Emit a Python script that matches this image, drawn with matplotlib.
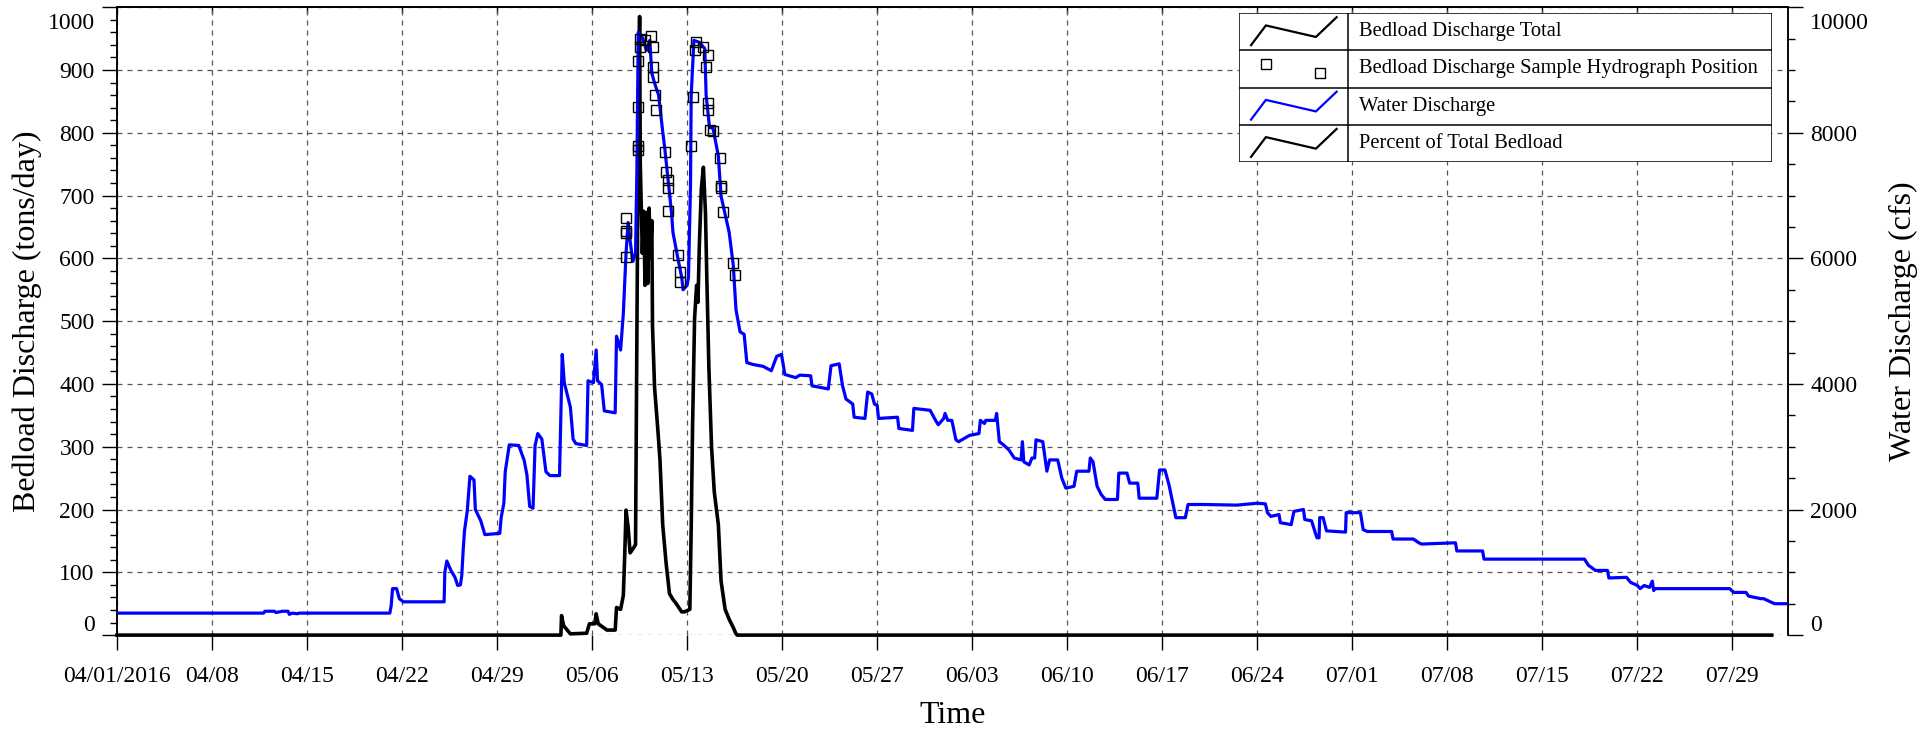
import numpy as np
import matplotlib.pyplot as plt
import matplotlib.dates as mdates
from matplotlib.ticker import MultipleLocator, FixedLocator, FuncFormatter, NullFormatter
from matplotlib.transforms import ScaledTranslation
from matplotlib.patches import Rectangle
from matplotlib.lines import Line2D

plt.rcParams['font.family'] = ['Liberation Serif', 'DejaVu Serif']

START = np.datetime64('2016-04-01T00:00')

# water discharge (cfs), days after 04/01/2016
water_days = [0, 10.8, 10.9, 11.6, 11.7, 12.2, 12.6, 12.7, 12.9, 13.3, 13.4, 20.1, 20.2, 20.3, 20.6, 20.8,
              21.1, 24.1, 24.15, 24.3, 24.6, 24.9, 25.1, 25.3, 25.4, 25.5, 25.6, 25.8, 26.0, 26.3, 26.4,
              26.8, 27.1, 28.2, 28.3, 28.5, 28.6, 28.9, 29.6, 30.0, 30.2, 30.4, 30.65, 30.8, 31.0, 31.3,
              31.6, 31.9, 32.6, 32.7, 32.8, 32.95, 33.4, 33.6, 33.8, 34.6, 34.7, 35.1, 35.3, 35.4, 35.7,
              35.9, 36.7, 36.75, 36.8, 37.1, 37.3, 37.5, 37.65, 37.8, 38.0, 38.2, 38.3, 38.4, 38.75, 39.0,
              39.25, 39.4, 39.6, 39.9, 40.2, 40.35, 40.6, 40.85, 40.96, 41.3, 41.6, 41.7, 42.0, 42.1, 42.25,
              42.3, 42.5, 42.9, 43.3, 43.4, 43.65, 43.9, 44.3, 44.5, 44.9, 45.1, 45.4, 45.6, 45.9, 46.2,
              46.4, 46.85, 47.6, 48.2, 48.6, 48.95, 49.2, 50.0, 50.3, 51.1, 51.2, 52.4, 52.6, 53.2, 53.45,
              53.7, 54.2, 54.3, 55.1, 55.3, 55.6, 55.8, 56.0, 56.1, 57.5, 57.6, 58.6, 58.7, 59.9, 60.3,
              60.5, 60.9, 61.0, 61.2, 61.5, 61.8, 62.0, 62.8, 63.5, 63.6, 63.9, 64.0, 64.7, 64.8, 65.0,
              65.3, 65.7, 66.1, 66.6, 66.7, 66.8, 67.2, 67.4, 67.6, 67.7, 68.2, 68.4, 68.5, 68.7, 69.3,
              69.6, 69.9, 70.5, 70.7, 71.6, 71.7, 71.9, 72.2, 72.5, 72.8, 73.7, 73.8, 74.4, 74.6, 75.2,
              75.3, 76.6, 76.8, 77.2, 77.5, 77.7, 78.0, 78.7, 78.9, 80.0, 82.5, 84.0, 84.6, 84.75, 85.0,
              85.6, 85.7, 86.5, 86.7, 87.4, 87.5, 88.0, 88.3, 88.4, 88.55, 88.6, 88.85, 89.1, 90.5, 90.55,
              91.6, 91.8, 92.1, 93.9, 94.0, 95.5, 95.9, 96.1, 98.6, 98.7, 100.6, 100.7, 108.1, 108.4,
              108.6, 108.9, 109.8, 109.9, 111.2, 111.5, 112.0, 112.2, 112.5, 112.9, 113.1, 113.2, 113.3,
              118.8, 119.1, 120.0, 120.2, 121.1, 121.3, 122.1, 123.2]
water_cfs = [350, 350, 380, 380, 360, 380, 380, 330, 350, 340, 350, 350, 470, 740, 740, 580,
             530, 530, 1000, 1180, 1030, 920, 790, 800, 950, 1340, 1660, 1970, 2530, 2470, 2000,
             1820, 1600, 1620, 1870, 2100, 2600, 3030, 3020, 2780, 2550, 2050, 2020, 3020, 3210, 3120,
             2600, 2540, 2540, 3500, 4470, 4020, 3630, 3120, 3050, 3020, 4050, 4020, 4540, 4050, 3990,
             3570, 3540, 4120, 4760, 4540, 5120, 6080, 6570, 6280, 5950, 6080, 7410, 9600, 9500, 9310,
             9470, 8950, 8790, 8600, 8020, 7760, 7250, 6730, 6410, 6020, 5700, 5500, 5570, 5700, 7180,
             8600, 9470, 9440, 9340, 8600, 8080, 8080, 7630, 6990, 6600, 6410, 5890, 5180, 4830, 4790,
             4340, 4310, 4280, 4210, 4440, 4470, 4150, 4100, 4140, 4130, 3970, 3920, 4290, 4320, 3970,
             3760, 3680, 3470, 3450, 3870, 3840, 3680, 3660, 3450, 3470, 3290, 3260, 3610, 3580, 3420,
             3350, 3450, 3530, 3420, 3420, 3110, 3080, 3180, 3210, 3420, 3370, 3420, 3420, 3530, 3080,
             3030, 2950, 2820, 2790, 3080, 2760, 2710, 2820, 2820, 3110, 3080, 2760, 2610, 2790, 2790,
             2500, 2340, 2370, 2610, 2610, 2820, 2760, 2370, 2240, 2160, 2160, 2580, 2580, 2420, 2420,
             2180, 2180, 2630, 2630, 2390, 2180, 1870, 1870, 2080, 2080, 2070, 2100, 2090, 1950, 1890,
             1920, 1790, 1760, 1970, 2000, 1840, 1820, 1610, 1550, 1550, 1870, 1870, 1660, 1640, 1950,
             1950, 1680, 1650, 1650, 1530, 1530, 1470, 1450, 1470, 1340, 1340, 1210, 1210, 1110,
             1080, 1030, 1030, 910, 920, 840, 790, 740, 790, 760, 860, 710, 740,
             740, 680, 680, 620, 580, 580, 500, 500]

# bedload discharge total (tons/day)
bed_days = [0, 32.7, 32.75, 32.9, 33.4, 34.6, 34.8, 35.2, 35.3, 35.45, 36.1, 36.7, 36.8, 37.1, 37.3,
            37.4, 37.5, 37.65, 37.8, 38.0, 38.2, 38.3, 38.4, 38.5, 38.55, 38.7, 38.8, 38.9, 39.0, 39.1,
            39.2, 39.3, 39.4, 39.45, 39.6, 39.85, 40.0, 40.2, 40.45, 40.7, 40.95, 41.2, 41.6, 41.8, 42.2,
            42.3, 42.4, 42.55, 42.7, 42.8, 42.9, 43.05, 43.2, 43.35, 43.45, 43.6, 43.8, 44.0, 44.3, 44.5,
            44.8, 45.1, 45.4, 45.6, 45.7, 121.9]
bed_tons = [0, 0, 31, 15, 2, 3, 18, 18, 34, 18, 8, 8, 44, 41, 63,
            125, 199, 173, 131, 137, 144, 479, 802, 985, 750, 608, 675, 557, 673, 560,
            680, 600, 660, 492, 395, 325, 279, 176, 115, 66, 57, 50, 37, 37, 41,
            170, 331, 505, 557, 530, 621, 712, 745, 673, 570, 428, 299, 228, 176, 86,
            41, 25, 12, 2, 0, 0]

# sample positions on the hydrograph (left axis units)
sample_days = [37.48, 37.48, 37.53, 37.48, 38.39, 38.39, 38.39, 38.39, 38.51, 38.51, 38.88, 39.37,
               39.49, 39.49, 39.49, 39.61, 39.74, 40.35, 40.47, 40.60, 40.60, 40.60, 41.33, 41.45,
               41.45, 42.31, 42.44, 42.56, 42.68, 43.17, 43.42, 43.54, 43.54, 43.54, 43.66, 43.91,
               44.40, 44.52, 44.52, 44.65, 45.38, 45.50]
sample_pos = [665, 640, 643, 602, 915, 841, 779, 773, 950, 937, 947, 954,
              937, 905, 889, 860, 837, 770, 737, 725, 712, 676, 605, 579,
              563, 779, 857, 931, 944, 937, 905, 924, 847, 837, 805, 802,
              760, 715, 712, 673, 592, 573]

tick_days = np.arange(0, 120, 7)
left_ticks = np.arange(0, 1001, 100)
right_ticks = np.arange(0, 10001, 2000)
legend_labels = ['Bedload Discharge Total', 'Bedload Discharge Sample Hydrograph Position',
                 'Water Discharge', 'Percent of Total Bedload']


def to_time(days):
    return START + (np.asarray(days) * 24 * 60).round().astype('timedelta64[m]')


fig = plt.figure(figsize=(19.27, 7.30), dpi=100)
ax = fig.add_axes([0.0607, 0.130, 0.8672, 0.8602])
ax2 = ax.twinx()

ax.plot(to_time(bed_days), bed_tons, color='black', lw=2.6, clip_on=False, zorder=3)
ax2.plot(to_time(water_days), water_cfs, color='#0000ff', lw=2.3, zorder=3)
ax2.plot(to_time(sample_days), np.array(sample_pos) * 10, ls='none', marker='s', ms=7.5, mfc='none',
         mec='black', mew=1.0, zorder=4)

ax.set_xlim(START, to_time([123.1])[0])
ax.set_ylim(0, 1000)
ax2.set_ylim(0, 10000)

ticks = mdates.date2num(to_time(tick_days))
ax.xaxis.set_major_locator(FixedLocator(ticks))
ax.xaxis.set_major_formatter(FuncFormatter(
    lambda v, p: mdates.num2date(v).strftime('%m/%d/%Y' if p == 0 else '%m/%d')))
ax.yaxis.set_major_locator(FixedLocator(left_ticks))
ax.yaxis.set_minor_locator(MultipleLocator(20))
ax2.yaxis.set_major_locator(FixedLocator(right_ticks))
ax2.yaxis.set_minor_locator(MultipleLocator(500))

ax.grid(True, which='major', color='#555555', ls=(0, (4, 4)), lw=0.9)
ax.set_axisbelow(True)

for a in (ax, ax2):
    a.spines['bottom'].set_visible(False)
    for s in ('left', 'right', 'top'):
        a.spines[s].set_linewidth(1.1)

ax.tick_params(axis='x', which='major', direction='out', length=11, width=1.0, labelsize=17, pad=11)
ax.tick_params(axis='y', which='major', direction='out', length=11, width=1.0, labelsize=17, pad=5)
ax.tick_params(axis='y', which='minor', direction='out', length=5, width=1.0)
ax2.tick_params(axis='y', which='major', direction='out', length=11, width=1.0, labelsize=17, pad=5)
ax2.tick_params(axis='y', which='minor', direction='out', length=5, width=1.0)

top = ax.secondary_xaxis('top')
top.xaxis.set_major_locator(FixedLocator(ticks))
top.xaxis.set_major_formatter(NullFormatter())
top.tick_params(direction='in', length=4, width=1.0)
top.spines['top'].set_linewidth(1.1)

ax.set_xlabel('Time', fontsize=23, labelpad=10)
ax.set_ylabel('Bedload Discharge (tons/day)', fontsize=23, labelpad=4)
ax2.set_ylabel('Water Discharge (cfs)', fontsize=23, labelpad=14)

# end labels pulled inside the axis
fig.canvas.draw()
for a in (ax, ax2):
    labs = a.get_yticklabels()
    up = ScaledTranslation(0, 9 / 72, fig.dpi_scale_trans)
    down = ScaledTranslation(0, -10 / 72, fig.dpi_scale_trans)
    labs[0].set_transform(labs[0].get_transform() + up)
    labs[-1].set_transform(labs[-1].get_transform() + down)

# legend drawn as a table
lax = fig.add_axes([0.643, 0.778, 0.2766, 0.204])
lax.set_xlim(0, 1)
lax.set_ylim(0, 4)
lax.axis('off')
lax.add_patch(Rectangle((0, 0), 1, 4, facecolor='white', edgecolor='black', lw=1.1))
lax.add_line(Line2D([0.2045, 0.2045], [0, 4], color='black', lw=1.1))
for r in (1, 2, 3):
    lax.add_line(Line2D([0, 1], [r, r], color='black', lw=1.1))
zig_x = np.array([0.11, 0.246, 0.705, 0.895]) * 0.2045
zig_y = np.array([0.14, 0.67, 0.36, 0.89])
colors = ['black', None, '#0000ff', 'black']
for i, lab in enumerate(legend_labels):
    y0 = 3 - i
    if colors[i] is not None:
        lax.plot(zig_x, y0 + zig_y, color=colors[i], lw=1.6)
    else:
        lax.plot([0.246 * 0.2045, 0.738 * 0.2045], [y0 + 0.64, y0 + 0.39], ls='none', marker='s',
                 ms=7.5, mfc='none', mec='black', mew=1.0)
    lax.text(0.2245, y0 + 0.5, lab, fontsize=14.8, va='center', ha='left')

fig.savefig('out.png', dpi=100)
